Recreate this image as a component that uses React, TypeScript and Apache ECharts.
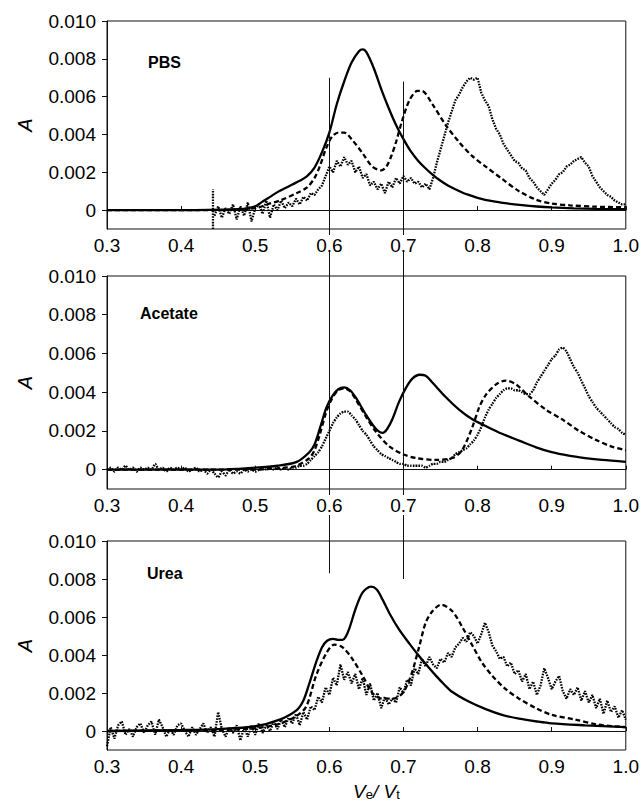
import React, { useEffect, useRef } from "react";
import * as echarts from "echarts";

// Absorbance values are stored in units of 10^-3 (axis labels are formatted back to A).
const panelNames = ["PBS", "Acetate", "Urea"];
const xTicks = [0.3, 0.4, 0.5, 0.6, 0.7, 0.8, 0.9, 1.0];
const yTickValues = [0, 2, 4, 6, 8, 10];

// smooth curves: [Ve/Vt, A*1e3]
const pbsSolid = [[0.30,0],[0.40,0],[0.48,0.05],[0.49,0.1],[0.50,0.2],[0.51,0.45],[0.52,0.7],[0.53,0.95],[0.54,1.15],[0.55,1.35],[0.56,1.55],[0.57,1.8],[0.58,2.25],[0.59,3.05],[0.60,4.1],[0.61,5.6],[0.62,6.8],[0.63,7.8],[0.64,8.4],[0.645,8.5],[0.65,8.35],[0.66,7.5],[0.67,6.4],[0.68,5.4],[0.69,4.5],[0.70,3.75],[0.71,3.1],[0.72,2.6],[0.73,2.2],[0.74,1.85],[0.75,1.55],[0.76,1.3],[0.77,1.1],[0.78,0.92],[0.79,0.78],[0.80,0.65],[0.82,0.47],[0.84,0.35],[0.86,0.26],[0.88,0.19],[0.90,0.14],[0.93,0.09],[0.96,0.06],[1.0,0.05]];
const pbsDashed = [[0.30,0],[0.45,0],[0.50,0.1],[0.52,0.35],[0.533,0.5],[0.556,0.9],[0.57,1.2],[0.58,1.7],[0.587,2.3],[0.596,3.3],[0.604,3.9],[0.612,4.1],[0.62,4.1],[0.631,3.7],[0.645,3.0],[0.658,2.3],[0.67,2.1],[0.677,2.3],[0.684,2.9],[0.69,3.6],[0.698,4.7],[0.708,5.8],[0.719,6.3],[0.725,6.3],[0.739,5.6],[0.757,4.5],[0.775,3.6],[0.793,2.85],[0.811,2.3],[0.833,1.65],[0.856,1.0],[0.879,0.55],[0.90,0.35],[0.925,0.25],[0.96,0.18],[1.0,0.15]];
const acetateSolid = [[0.30,0],[0.45,0],[0.50,0.1],[0.53,0.2],[0.556,0.4],[0.573,0.9],[0.58,1.3],[0.587,2.1],[0.596,3.2],[0.604,3.8],[0.612,4.15],[0.62,4.25],[0.628,4.1],[0.636,3.7],[0.65,2.8],[0.663,2.1],[0.672,1.9],[0.678,2.1],[0.685,2.6],[0.694,3.5],[0.703,4.2],[0.712,4.7],[0.722,4.9],[0.73,4.85],[0.739,4.5],[0.757,3.75],[0.775,3.1],[0.793,2.6],[0.811,2.25],[0.833,1.85],[0.856,1.5],[0.879,1.15],[0.90,0.9],[0.923,0.72],[0.945,0.6],[0.968,0.5],[1.0,0.4]];
const acetateDashed = [[0.30,0],[0.45,0],[0.50,0],[0.54,0.1],[0.556,0.2],[0.573,0.6],[0.58,1.0],[0.587,1.8],[0.596,3.0],[0.604,3.7],[0.612,4.1],[0.62,4.2],[0.628,4.05],[0.636,3.6],[0.65,2.7],[0.663,1.95],[0.681,1.2],[0.699,0.8],[0.717,0.6],[0.743,0.5],[0.766,0.6],[0.779,1.0],[0.793,2.2],[0.802,3.2],[0.811,3.85],[0.825,4.4],[0.838,4.6],[0.852,4.4],[0.869,3.8],[0.892,3.1],[0.914,2.6],[0.937,2.0],[0.959,1.55],[0.98,1.2],[1.0,1.0]];
const ureaSolid = [[0.30,0],[0.40,0.05],[0.45,0.1],[0.50,0.25],[0.533,0.6],[0.556,1.1],[0.565,1.6],[0.573,2.5],[0.582,3.6],[0.59,4.4],[0.597,4.75],[0.605,4.85],[0.612,4.8],[0.618,4.8],[0.622,4.95],[0.627,5.4],[0.636,6.5],[0.645,7.3],[0.656,7.6],[0.664,7.45],[0.672,6.9],[0.681,6.2],[0.694,5.35],[0.708,4.6],[0.721,3.95],[0.735,3.3],[0.744,2.9],[0.755,2.45],[0.766,2.05],[0.788,1.55],[0.811,1.15],[0.833,0.85],[0.856,0.65],[0.88,0.5],[0.90,0.4],[0.945,0.3],[1.0,0.2]];
const ureaDashed = [[0.30,0],[0.45,0.05],[0.50,0.15],[0.53,0.35],[0.556,0.8],[0.569,1.3],[0.582,2.9],[0.596,4.1],[0.607,4.55],[0.618,4.4],[0.631,3.8],[0.645,2.9],[0.658,2.0],[0.672,1.7],[0.685,1.7],[0.699,2.0],[0.71,2.9],[0.721,4.4],[0.73,5.7],[0.739,6.3],[0.751,6.65],[0.766,6.3],[0.779,5.5],[0.793,4.5],[0.806,3.6],[0.82,2.9],[0.838,2.2],[0.856,1.7],[0.879,1.2],[0.90,0.85],[0.932,0.6],[0.96,0.35],[1.0,0.2]];

// noisy (dotted) traces, sampled every 0.005 in Ve/Vt
const noisyStep = 0.005;
const pbsNoisyStart = 0.445;
const pbsNoisy = [-0.3,0.2,-0.4,0.1,-0.2,0.3,-0.5,0.2,-0.3,0.4,-0.6,0.1,0.3,-0.2,0.5,-0.4,0.3,0.0,0.5,0.1,0.4,0.2,0.6,0.3,0.7,0.5,0.9,0.8,1.1,1.3,1.8,2.3,2.0,2.6,2.3,2.8,2.4,2.6,2.0,2.3,1.7,1.9,1.3,1.5,1.1,1.4,0.9,1.5,1.2,1.7,1.4,1.8,1.5,1.7,1.4,1.5,1.2,1.4,1.1,1.7,2.5,3.2,3.9,4.6,5.2,5.8,6.1,6.5,6.8,7.0,6.9,7.0,6.2,5.8,5.5,4.8,4.3,4.0,3.5,3.2,2.9,2.6,2.5,2.2,2.1,1.7,1.5,1.2,1.0,0.8,1.1,1.4,1.6,1.9,2.0,2.3,2.4,2.6,2.7,2.8,2.5,2.3,1.8,1.5,1.2,1.0,0.8,0.7,0.5,0.4,0.3,0.3];
const pbsSpikeX = 0.443;
const pbsSpikeY = [-1.0, 1.1];
const acetateNoisyStart = 0.3;
const acetateNoisy = [0.0,0.1,-0.1,0.1,0.0,0.2,0.0,0.1,-0.1,0.1,0.0,0.1,0.0,0.3,0.0,0.1,-0.1,0.1,0.0,0.1,0.0,0.1,-0.1,0.0,0.1,-0.1,0.0,-0.2,0.0,-0.2,-0.4,-0.1,-0.3,0.0,-0.2,-0.1,-0.2,0.0,-0.1,0.0,-0.1,0.0,0.1,0.0,0.1,0.0,0.1,0.0,0.1,0.0,0.1,0.1,0.2,0.2,0.3,0.5,0.7,0.9,1.2,1.6,2.0,2.4,2.7,2.9,3.0,3.0,2.8,2.6,2.3,2.0,1.8,1.5,1.2,1.0,0.8,0.7,0.6,0.5,0.4,0.3,0.3,0.2,0.2,0.2,0.2,0.2,0.1,0.2,0.3,0.3,0.4,0.4,0.5,0.6,0.8,0.9,1.0,1.1,1.3,1.5,1.8,2.2,2.7,3.1,3.4,3.7,3.9,4.1,4.2,4.2,4.1,4.1,4.0,3.9,3.9,4.1,4.5,4.8,5.1,5.4,5.7,5.9,6.2,6.3,6.1,5.7,5.3,5.0,4.6,4.2,3.8,3.5,3.2,3.0,2.8,2.6,2.4,2.2,2.1,1.9,1.8];
const ureaNoisyStart = 0.3;
const ureaNoisy = [-0.8,0.2,-0.4,0.3,0.5,-0.2,0.1,-0.3,0.2,0.4,-0.1,0.3,0.5,-0.2,0.6,0.2,-0.3,0.1,-0.2,0.3,0.4,0.0,-0.3,0.2,-0.2,0.1,0.4,-0.1,0.2,-0.3,1.0,0.1,-0.3,0.2,-0.1,0.3,-0.5,0.2,-0.3,0.3,-0.2,0.4,-0.1,0.3,0.0,0.5,0.1,0.6,0.2,0.7,0.4,0.9,0.3,1.0,0.6,1.3,1.1,1.8,1.5,2.3,1.9,2.8,2.4,3.5,2.7,3.1,2.5,3.0,2.2,2.8,1.9,2.5,1.6,2.0,1.2,1.8,1.4,1.7,1.5,2.3,2.0,2.7,2.4,3.3,3.0,3.8,3.4,3.9,3.5,3.3,3.8,3.6,4.1,3.9,4.4,4.6,4.9,4.7,5.2,5.0,4.6,5.1,5.7,5.2,4.5,4.2,3.8,3.9,3.4,3.6,3.0,3.2,2.6,3.0,2.2,2.6,1.9,2.4,3.3,2.8,2.2,2.6,2.9,2.1,1.7,2.2,1.9,2.3,1.6,2.1,1.5,1.9,1.2,1.7,0.9,1.6,1.0,1.3,0.7,1.1,0.6];

// guide lines at Ve/Vt = 0.6 and 0.7 spanning the three panels
const guideX = [0.6, 0.7];
const guideTopPBS = [7.0, 6.8];
const guideBottomUrea = [8.3, 8.0];

const FONT = "'Liberation Sans', Arial, Helvetica, sans-serif";

function toPairs(start: number, values: number[]) {
  return values.map((v, i) => [+(start + i * noisyStep).toFixed(4), v]);
}

export default function App() {
  const ref = useRef<HTMLDivElement>(null);
  useEffect(() => {
    document.body.style.margin = "0";
    if (!ref.current) return;
    const chart = echarts.init(ref.current, null, { renderer: "svg" });
    const grids = [
      { left: 107, right: 15, top: 21, height: 208 },
      { left: 107, right: 15, top: 276, height: 213 },
      { left: 107, right: 15, top: 541, height: 210 },
    ].map((g) => ({ ...g, show: true, borderColor: "#111", borderWidth: 1, backgroundColor: "transparent" }));

    const xAxes = grids.map((_, i) => ({
      type: "value",
      gridIndex: i,
      min: xTicks[0],
      max: xTicks[xTicks.length - 1],
      interval: 0.1,
      axisLine: { show: true, lineStyle: { color: "#111", width: 1 } },
      axisTick: { show: true, inside: true, length: 4, lineStyle: { color: "#111" } },
      splitLine: { show: false },
      axisLabel: {
        color: "#000",
        fontFamily: FONT,
        fontSize: 19,
        margin: 7,
        formatter: (v: number) => v.toFixed(1),
      },
      ...(i === 2
        ? {
            name: "{v|V}{s|e}{v|/ V}{s|t}",
            nameLocation: "middle",
            nameGap: 31,
            nameTextStyle: {
              padding: [0, 0, 0, 20],
              rich: {
                v: { fontFamily: FONT, fontStyle: "italic", fontSize: 19, color: "#000", lineHeight: 20, verticalAlign: "middle" },
                s: { fontFamily: FONT, fontSize: 13, color: "#000", lineHeight: 14, padding: [10, 0, 0, 0], verticalAlign: "bottom" },
              },
            },
          }
        : {}),
    }));

    const yAxes = grids.map((_, i) => ({
      type: "value",
      gridIndex: i,
      min: -1,
      max: 10,
      name: "A",
      nameLocation: "middle",
      nameRotate: 90,
      nameGap: 72,
      nameTextStyle: { fontFamily: FONT, fontStyle: "italic", fontSize: 20, color: "#000" },
      axisLine: { show: true, lineStyle: { color: "#111", width: 1 } },
      axisTick: { show: true, inside: false, length: 5, customValues: yTickValues, lineStyle: { color: "#111" } },
      splitLine: { show: false },
      axisLabel: {
        color: "#000",
        fontFamily: FONT,
        fontSize: 19,
        margin: 11,
        customValues: yTickValues,
        formatter: (v: number) => (v === 0 ? "0" : (v / 1000).toFixed(3)),
      },
    }));

    const solidStyle = { color: "#000", width: 2.3, type: "solid" };
    const dashedStyle = { color: "#000", width: 2.3, type: [5, 3] };
    const dottedStyle = { color: "#000", width: 2.3, type: [1.6, 1.2] };
    const line = (data: number[][], idx: number, style: any, smooth: boolean | number) => ({
      type: "line",
      xAxisIndex: idx,
      yAxisIndex: idx,
      data,
      symbol: "none",
      smooth,
      lineStyle: style,
      silent: true,
      clip: true,
    });

    const series = [
      line(toPairs(pbsNoisyStart, pbsNoisy), 0, dottedStyle, false),
      line(pbsSpikeY.map((v) => [pbsSpikeX, v]), 0, dottedStyle, false),
      line(pbsDashed, 0, dashedStyle, 0.3),
      line(pbsSolid, 0, solidStyle, 0.3),
      line(toPairs(acetateNoisyStart, acetateNoisy), 1, dottedStyle, 0.2),
      line(acetateDashed, 1, dashedStyle, 0.3),
      line(acetateSolid, 1, solidStyle, 0.3),
      line(toPairs(ureaNoisyStart, ureaNoisy), 2, dottedStyle, false),
      line(ureaDashed, 2, dashedStyle, 0.3),
      line(ureaSolid, 2, solidStyle, 0.3),
    ];

    const titleTops = [49, 300, 560];
    const titleLefts = [143, 135, 142];
    const title = panelNames.map((t, i) => ({
      text: t,
      left: titleLefts[i],
      top: titleTops[i],
      textStyle: { fontFamily: FONT, fontWeight: "bold", fontSize: 16, color: "#000" },
    }));

    chart.setOption({
      animation: false,
      backgroundColor: "#fff",
      title,
      grid: grids,
      xAxis: xAxes,
      yAxis: yAxes,
      series,
    });

    // guide lines, positioned through the axes' scales
    const graphic: any[] = [];
    const g0Bottom = chart.convertToPixel({ yAxisIndex: 0 } as any, -1) as number;
    const g1Bottom = chart.convertToPixel({ yAxisIndex: 1 } as any, -1) as number;
    guideX.forEach((gx, i) => {
      const px = Math.round(chart.convertToPixel({ xAxisIndex: 0 } as any, gx) as number) + 0.5;
      const yTop = chart.convertToPixel({ yAxisIndex: 0 } as any, guideTopPBS[i]) as number;
      const yEnd = chart.convertToPixel({ yAxisIndex: 2 } as any, guideBottomUrea[i]) as number;
      const segs = [
        [yTop, g0Bottom + 6],
        [g0Bottom + 23, g1Bottom + 6],
        [g1Bottom + 26, yEnd],
      ];
      segs.forEach(([a, b]) =>
        graphic.push({
          type: "line",
          silent: true,
          z: 10,
          shape: { x1: px, y1: a, x2: px, y2: b },
          style: { stroke: "#111", lineWidth: 1 },
        })
      );
    });
    chart.setOption({ graphic });

    return () => chart.dispose();
  }, []);
  return <div ref={ref} style={{ width: 642, height: 802 }} />;
}
